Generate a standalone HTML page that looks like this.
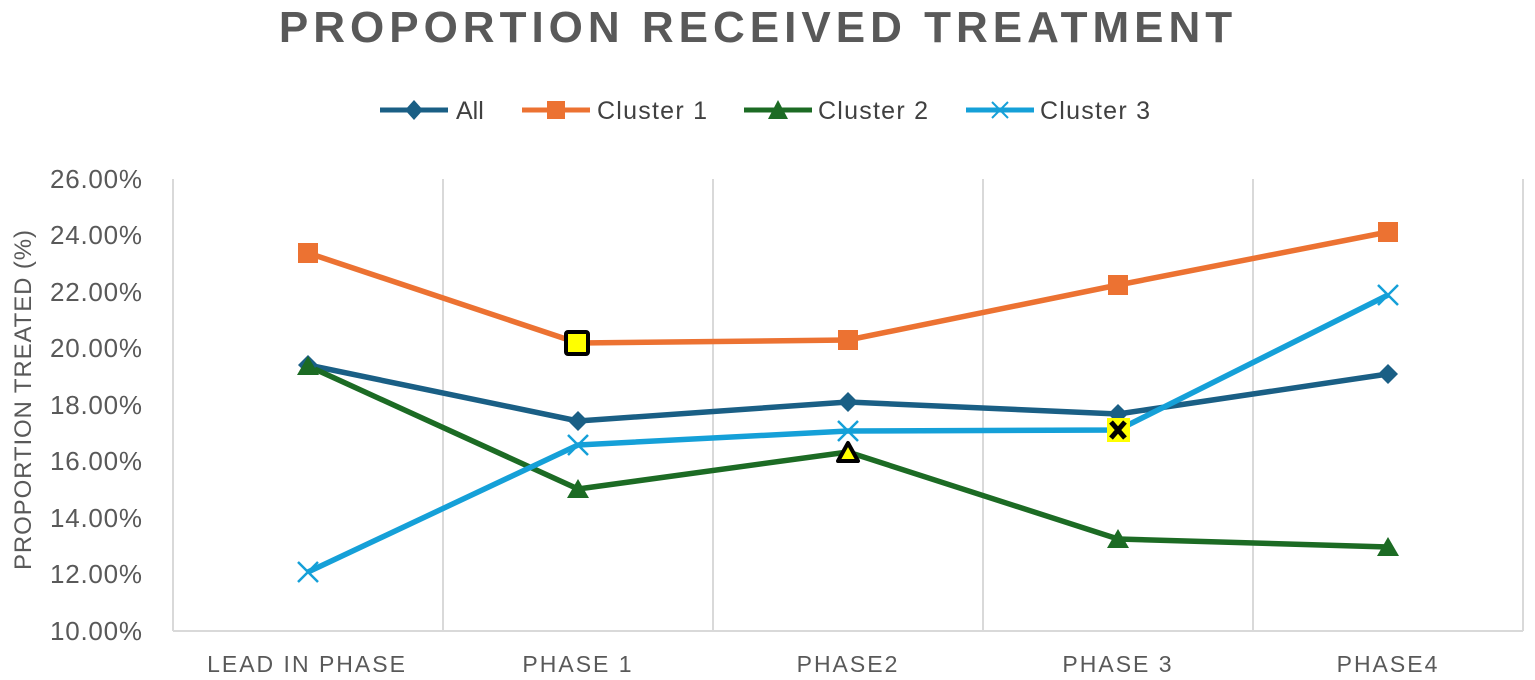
<!DOCTYPE html>
<html><head><meta charset="utf-8"><style>
body{margin:0;background:#fff}
svg{display:block;font-family:"Liberation Sans",sans-serif}
</style></head><body>
<svg width="1535" height="680" viewBox="0 0 1535 680">
<text x="758" y="42" text-anchor="middle" font-size="44" font-weight="bold" fill="#595959" letter-spacing="5">PROPORTION  RECEIVED TREATMENT</text>
<g font-size="25" fill="#404040">
<line x1="380" y1="110" x2="448" y2="110" stroke="#1a5f85" stroke-width="5"/><path d="M414 100 L423 110 L414 120 L405 110Z" fill="#1a5f85"/><text x="456" y="119">All</text>
<line x1="522" y1="110" x2="590" y2="110" stroke="#ec7232" stroke-width="5"/><rect x="547" y="101" width="18" height="18" fill="#ec7232"/><text x="597" y="119" textLength="110">Cluster 1</text>
<line x1="744" y1="110" x2="812" y2="110" stroke="#1c6b24" stroke-width="5"/><path d="M778 100 L788 119 L768 119Z" fill="#1c6b24"/><text x="818" y="119" textLength="110">Cluster 2</text>
<line x1="966" y1="110" x2="1034" y2="110" stroke="#15a0d8" stroke-width="5"/><path d="M992 102 L1008 118 M1008 102 L992 118" stroke="#15a0d8" stroke-width="2"/><text x="1040" y="119" textLength="110">Cluster 3</text>
</g>
<g stroke="#d9d9d9" stroke-width="2">
<line x1="173" y1="179" x2="173" y2="631"/><line x1="443" y1="179" x2="443" y2="631"/><line x1="713" y1="179" x2="713" y2="631"/><line x1="983" y1="179" x2="983" y2="631"/><line x1="1253" y1="179" x2="1253" y2="631"/><line x1="1523" y1="179" x2="1523" y2="631"/>
<line x1="173" y1="631" x2="1523" y2="631"/>
</g>
<g font-size="26" fill="#595959">
<text x="50" y="188" textLength="92">26.00%</text><text x="50" y="244" textLength="92">24.00%</text><text x="50" y="301" textLength="92">22.00%</text><text x="50" y="357" textLength="92">20.00%</text><text x="50" y="414" textLength="92">18.00%</text><text x="50" y="470" textLength="92">16.00%</text><text x="50" y="527" textLength="92">14.00%</text><text x="50" y="583" textLength="92">12.00%</text><text x="50" y="640" textLength="92">10.00%</text>
</g>
<text transform="translate(31,400) rotate(-90)" text-anchor="middle" font-size="24" fill="#595959" textLength="340">PROPORTION TREATED (%)</text>
<g font-size="23" fill="#595959" text-anchor="middle" letter-spacing="2">
<text x="307" y="672">LEAD IN PHASE</text><text x="578" y="672">PHASE 1</text><text x="848" y="672">PHASE2</text><text x="1118" y="672">PHASE 3</text><text x="1388" y="672">PHASE4</text>
</g>
<g fill="none" stroke-width="5.5" stroke-linejoin="round">
<polyline points="308,253 578,343 848,340 1118,285 1388,232" stroke="#ec7232"/>
<polyline points="308,365 578,421 848,402 1118,414 1388,374" stroke="#1a5f85"/>
<polyline points="308,366 578,489 848,452 1118,539 1388,547" stroke="#1c6b24"/>
<polyline points="308,572 578,445 848,431 1118,430 1388,295" stroke="#15a0d8"/>
</g>
<g fill="#ec7232"><rect x="298" y="243" width="20" height="20"/><rect x="838" y="330" width="20" height="20"/><rect x="1108" y="275" width="20" height="20"/><rect x="1378" y="222" width="20" height="20"/></g>
<rect x="566" y="332" width="22" height="22" fill="#ffff00" stroke="#000" stroke-width="4" rx="2"/>
<g fill="#1a5f85"><path d="M308 355 L318 365 L308 375 L298 365Z"/><path d="M578 411 L588 421 L578 431 L568 421Z"/><path d="M848 392 L858 402 L848 412 L838 402Z"/><path d="M1118 404 L1128 414 L1118 424 L1108 414Z"/><path d="M1388 364 L1398 374 L1388 384 L1378 374Z"/></g>
<g fill="#1c6b24"><path d="M308 356 L319 375 L297 375Z"/><path d="M578 479 L589 498 L567 498Z"/><path d="M1118 529 L1129 548 L1107 548Z"/><path d="M1388 537 L1399 556 L1377 556Z"/></g>
<path d="M848 443 L858 461 L838 461Z" fill="#ffff00" stroke="#000" stroke-width="4" stroke-linejoin="round"/>
<g stroke="#15a0d8" stroke-width="2.5"><path d="M298 562 L318 582 M318 562 L298 582"/><path d="M568 435 L588 455 M588 435 L568 455"/><path d="M838 421 L858 441 M858 421 L838 441"/><path d="M1378 285 L1398 305 M1398 285 L1378 305"/></g>
<rect x="1107" y="418" width="23" height="24" fill="#ffff00"/>
<path d="M1111 422 L1125 438 M1125 422 L1111 438" stroke="#000" stroke-width="5"/>
</svg>
</body></html>
